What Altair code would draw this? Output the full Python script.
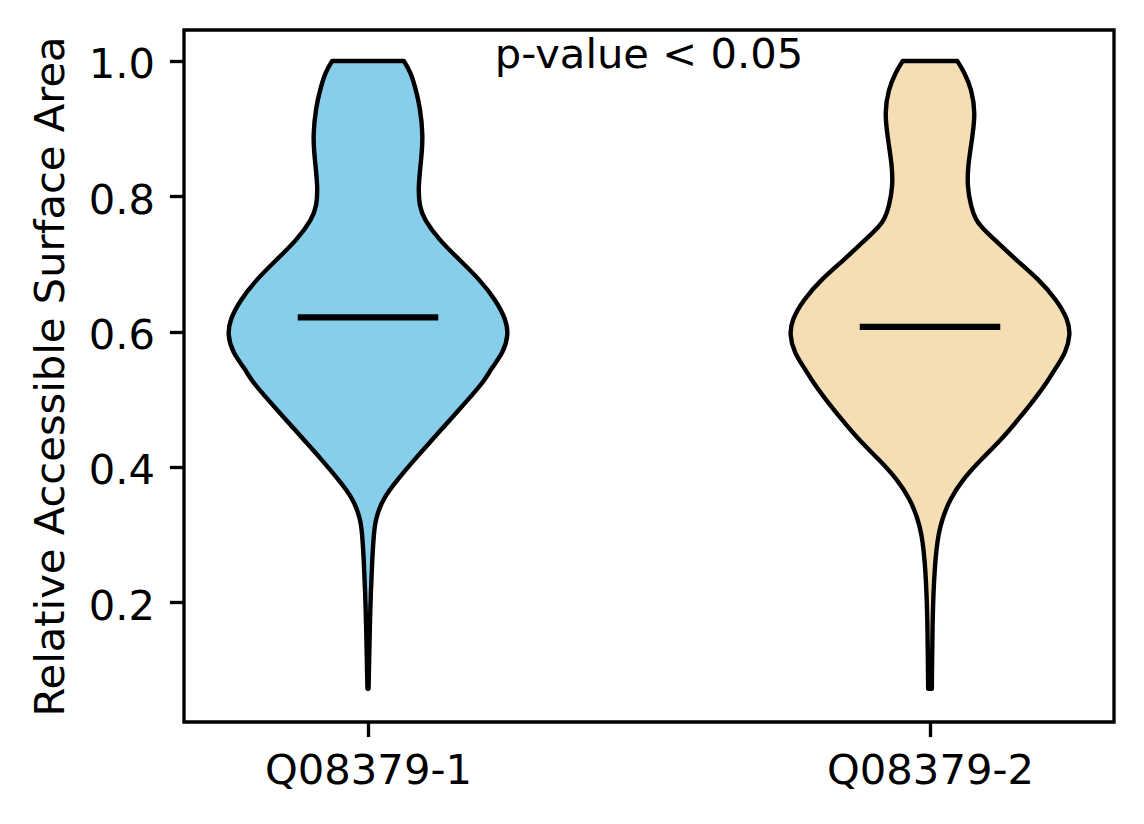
import altair as alt
import pandas as pd

# ---------------- data ----------------
NAMES = ["Q08379-1", "Q08379-2"]
POSITIONS = [1, 2]
FILLS = ["#87CEEB", "#F5DEB3"]
MEDIANS = [0.621, 0.607]

# violin 1 profile: y value and density (normalised to its peak)
V1_Y = [1.000, 0.983, 0.958, 0.933, 0.889, 0.849, 0.815, 0.785, 0.766, 0.736,
        0.706, 0.677, 0.647, 0.618, 0.596, 0.569, 0.544, 0.529, 0.500, 0.470,
        0.441, 0.411, 0.382, 0.352, 0.322, 0.300, 0.263, 0.214, 0.164, 0.115, 0.072]
V1_DENSITY = [0.255, 0.305, 0.340, 0.369, 0.394, 0.376, 0.358, 0.365, 0.400, 0.504,
              0.652, 0.794, 0.908, 0.982, 1.000, 0.965, 0.872, 0.835, 0.715, 0.585,
              0.461, 0.331, 0.213, 0.102, 0.053, 0.041, 0.030, 0.020, 0.013, 0.0085, 0.004]

# violin 2 profile
V2_Y = [1.000, 0.983, 0.958, 0.923, 0.884, 0.845, 0.815, 0.785, 0.766, 0.756,
        0.736, 0.706, 0.677, 0.647, 0.618, 0.596, 0.569, 0.544, 0.529, 0.500,
        0.470, 0.441, 0.411, 0.382, 0.352, 0.322, 0.300, 0.275, 0.250, 0.213,
        0.164, 0.115, 0.072]
V2_DENSITY = [0.194, 0.246, 0.296, 0.324, 0.299, 0.270, 0.265, 0.291, 0.324, 0.359,
              0.458, 0.613, 0.775, 0.901, 0.982, 1.000, 0.968, 0.887, 0.845, 0.745,
              0.628, 0.511, 0.364, 0.235, 0.141, 0.085, 0.060, 0.044, 0.034, 0.024,
              0.018, 0.015, 0.013]

P_TEXT = ["p-value < 0.05"]
P_X = [1.5]
P_Y = [0.99]

Y_TICKS = [0.2, 0.4, 0.6, 0.8, 1.0]
Y_TITLE = "Relative Accessible Surface Area"

# ---------------- tables ----------------
rows = []
for name, pos, ys, ds in [(NAMES[0], POSITIONS[0], V1_Y, V1_DENSITY),
                          (NAMES[1], POSITIONS[1], V2_Y, V2_DENSITY)]:
    for y, d in zip(ys, ds):
        rows.append({"name": name, "pos": pos, "y": y, "density": d})
violins = pd.DataFrame(rows)
medians = pd.DataFrame({"name": NAMES, "pos": POSITIONS, "median": MEDIANS})
annot = pd.DataFrame({"text": P_TEXT, "x": P_X, "y": P_Y})

FONT = "DejaVu Sans"
FS = 41.67
HALF = 0.25  # half of violin width (width 0.5)

x_scale = alt.Scale(domain=[0.6726, 2.3274], nice=False, zero=False)
y_scale = alt.Scale(domain=[0.0229, 1.0458], nice=False, zero=False)

label_expr = "[" + ",".join(f"'{n}'" for n in NAMES) + "][round(datum.value) - 1]"

x_axis = alt.Axis(values=POSITIONS, labelExpr=label_expr, title=None, grid=False,
                  domain=False, tickSize=14.6, tickWidth=3.33, tickColor="black",
                  labelFont=FONT, labelFontSize=FS, labelColor="black",
                  labelPadding=14, labelAngle=0, labelLimit=0)
y_axis = alt.Axis(values=Y_TICKS, format=".1f", title=Y_TITLE, grid=False,
                  domain=False, tickSize=14.6, tickWidth=3.33, tickColor="black",
                  labelFont=FONT, labelFontSize=FS, labelColor="black",
                  labelPadding=15, labelBaseline="alphabetic", labelOffset=17,
                  labelLimit=0,
                  titleFont=FONT, titleFontSize=FS, titleFontWeight="normal",
                  titleColor="black", titleAngle=270, titleAlign="center",
                  titleBaseline="alphabetic", titleX=-121, titleY=346, titleLimit=0)

areas = alt.Chart(violins).transform_calculate(
    lo=f"datum.pos - {HALF} * datum.density",
    hi=f"datum.pos + {HALF} * datum.density",
).mark_area(orient="horizontal", interpolate="basis", stroke="black",
            strokeWidth=4.4, strokeJoin="round", opacity=1, fillOpacity=1).encode(
    y=alt.Y("y:Q", scale=y_scale, axis=y_axis),
    x=alt.X("lo:Q", scale=x_scale, axis=x_axis, stack=None),
    x2="hi:Q",
    color=alt.Color("name:N", scale=alt.Scale(domain=NAMES, range=FILLS), legend=None),
)

rules = alt.Chart(medians).transform_calculate(
    lo=f"datum.pos - {HALF / 2}",
    hi=f"datum.pos + {HALF / 2}",
).mark_rule(color="black", strokeWidth=6.25).encode(
    y=alt.Y("median:Q", scale=y_scale),
    x=alt.X("lo:Q", scale=x_scale),
    x2="hi:Q",
)

text = alt.Chart(annot).mark_text(font=FONT, fontSize=FS, color="black",
                                  align="center", baseline="alphabetic").encode(
    x=alt.X("x:Q", scale=x_scale),
    y=alt.Y("y:Q", scale=y_scale),
    text="text:N",
)

chart = alt.layer(areas, rules, text).properties(
    width=930, height=692,
    background="white",
    autosize=alt.AutoSizeParams(type="none"),
    padding={"left": 176, "top": 22, "right": 22, "bottom": 80},
).configure_view(stroke="black", strokeWidth=3.33)

chart.save("out.html", embed_options={"renderer": "svg", "actions": False})
